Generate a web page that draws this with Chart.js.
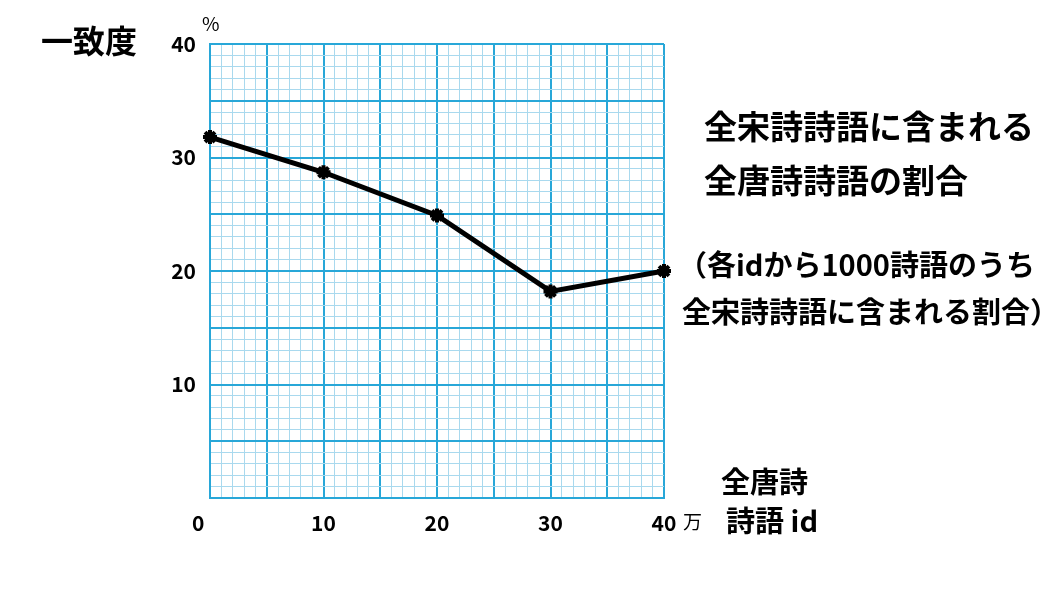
<!DOCTYPE html>
<html>
<head>
<meta charset="utf-8">
<script src="https://cdn.jsdelivr.net/npm/chart.js@4/dist/chart.umd.min.js"></script>
<style>
  body { margin: 0; background: #fff; }
  #wrap { width: 1061px; height: 607px; }
</style>
</head>
<body>
<div id="wrap"><canvas id="chart" width="1061" height="607"></canvas></div>
<script>
// x: 全唐詩 詩語 id (万), y: 一致度 (%)
const idValues = [0, 10, 20, 30, 40];
const matchRate = [31.8, 28.7, 24.9, 18.2, 20.0];
const xTickLabels = [0, 10, 20, 30, 40];
const yTickLabels = [10, 20, 30, 40];

const JP = '"Noto Sans CJK JP", "Noto Sans", sans-serif';
const MAJOR = '#28a7d8';
const MINOR = '#a9d9ee';

// ================= TEXT NOTES =================
const notes = {
    id: 'notes',
    afterDraw(chart) {
        const c = chart.ctx;
        c.save();
        c.fillStyle = '#000';
        c.textBaseline = 'middle';
        c.textAlign = 'left';

        c.font = 'bold 32px ' + JP;
        c.fillText('一致度', 41, 41);

        c.font = '19px ' + JP;
        c.fillText('%', 202, 24);
        c.fillText('万', 683, 522);

        c.font = 'bold 33px ' + JP;
        c.fillText('全宋詩詩語に含まれる', 704, 126);
        c.fillText('全唐詩詩語の割合', 704, 180);

        c.font = 'bold 29px ' + JP;
        c.fillText('（各idから1000詩語のうち', 678, 265);
        c.fillText('全宋詩詩語に含まれる割合）', 682, 312);

        c.fillText('全唐詩', 721, 482);
        c.fillText('詩語 id', 726, 521);
        c.restore();
    }
};

function gridColor(ctx) {
    return ctx.tick && ctx.tick.value % 5 === 0 ? MAJOR : MINOR;
}
function gridWidth(ctx) {
    return ctx.tick && ctx.tick.value % 5 === 0 ? 2 : 1;
}

new Chart(document.getElementById('chart'), {
    type: 'line',
    data: {
        datasets: [{
            data: idValues.map((x, i) => ({ x: x, y: matchRate[i] })),
            borderColor: '#000',
            backgroundColor: '#000',
            borderWidth: 5,
            pointStyle: 'star',
            pointRadius: 7,
            pointBorderWidth: 4,
            clip: false
        }]
    },
    plugins: [notes],
    options: {
        responsive: false,
        animation: false,
        layout: { padding: { top: 44, right: 397, left: 0, bottom: 0 } },
        plugins: { legend: { display: false }, tooltip: { enabled: false } },
        scales: {
            x: {
                type: 'linear',
                min: 0,
                max: 40,
                afterFit: s => { s.height = 109; },
                afterBuildTicks: s => {
                    s.ticks = [];
                    for (let v = 0; v <= 40; v++) s.ticks.push({ value: v });
                },
                ticks: {
                    autoSkip: false,
                    maxRotation: 0,
                    padding: 12,
                    color: '#000',
                    font: { family: JP, size: 21, weight: 'bold' },
                    callback: v => v === 0 ? '0     ' : (xTickLabels.includes(v) ? String(v) : '')
                },
                grid: { color: gridColor, lineWidth: gridWidth, drawTicks: false },
                border: { color: MAJOR, width: 2 }
            },
            y: {
                min: 0,
                max: 40,
                afterFit: s => { s.width = 210; },
                afterBuildTicks: s => {
                    s.ticks = [];
                    for (let v = 0; v <= 40; v++) s.ticks.push({ value: v });
                },
                ticks: {
                    autoSkip: false,
                    padding: 14,
                    color: '#000',
                    font: { family: JP, size: 21, weight: 'bold' },
                    callback: v => yTickLabels.includes(v) ? String(v) : ''
                },
                grid: { color: gridColor, lineWidth: gridWidth, drawTicks: false },
                border: { color: MAJOR, width: 2 }
            }
        }
    }
});
</script>
</body>
</html>
